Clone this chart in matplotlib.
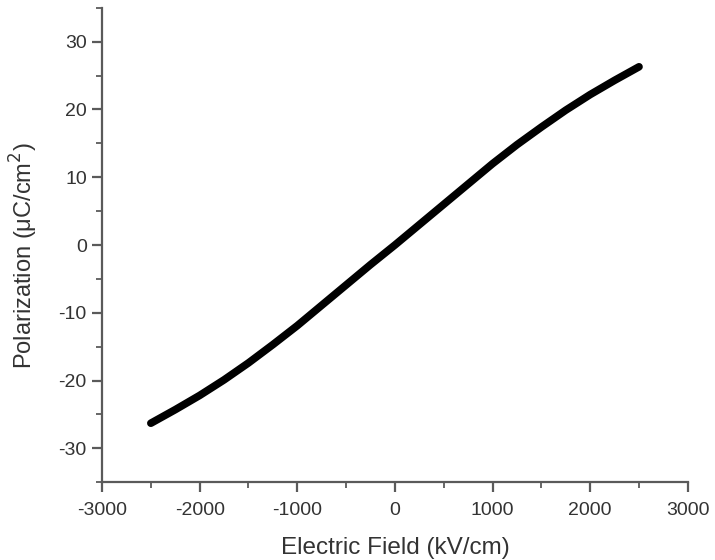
import matplotlib
matplotlib.use("Agg")
import matplotlib.pyplot as plt
from matplotlib.ticker import MultipleLocator

plt.rcParams['font.family'] = ['Liberation Sans', 'DejaVu Sans']
plt.rcParams['axes.unicode_minus'] = False

# field (kV/cm) and polarization (uC/cm^2)
field = [-2500, -2250, -2000, -1750, -1500, -1250, -1000, -750, -500, -250, 0,
         250, 500, 750, 1000, 1250, 1500, 1750, 2000, 2250, 2500]
polarization = [-26.3, -24.3, -22.2, -19.9, -17.4, -14.7, -11.9, -8.9, -5.9, -2.9, 0.0,
                3.0, 6.0, 9.0, 12.0, 14.8, 17.4, 19.9, 22.2, 24.3, 26.3]

axis_col = '#5a5a5a'
text_col = '#333333'

fig = plt.figure(figsize=(7.15, 5.6), dpi=100)
ax = fig.add_axes([0.1427, 0.139, 0.8193, 0.847])

ax.plot(field, polarization, color='black', linewidth=5.5, solid_capstyle='round')

ax.set_xlim(-3000, 3000)
ax.set_ylim(-35, 35)
ax.xaxis.set_major_locator(MultipleLocator(1000))
ax.xaxis.set_minor_locator(MultipleLocator(500))
ax.yaxis.set_major_locator(MultipleLocator(10))
ax.yaxis.set_minor_locator(MultipleLocator(5))

for s in ['top', 'right']:
    ax.spines[s].set_visible(False)
for s in ['left', 'bottom']:
    ax.spines[s].set_color(axis_col)
    ax.spines[s].set_linewidth(1.6)

ax.tick_params(which='major', direction='out', length=7, width=1.6, pad=4,
               color=axis_col, labelcolor=text_col, labelsize=14)
ax.tick_params(axis='x', which='major', pad=7)
ax.tick_params(which='minor', direction='out', length=4, width=1.3, color=axis_col)

ax.set_xlabel('Electric Field (kV/cm)', fontsize=17.5, color=text_col, labelpad=13)
ax.set_ylabel('Polarization (μC/cm$^2$)', fontsize=17, color=text_col)
ax.yaxis.set_label_coords(-0.106, 0.477)

fig.savefig('out.png', dpi=100)
